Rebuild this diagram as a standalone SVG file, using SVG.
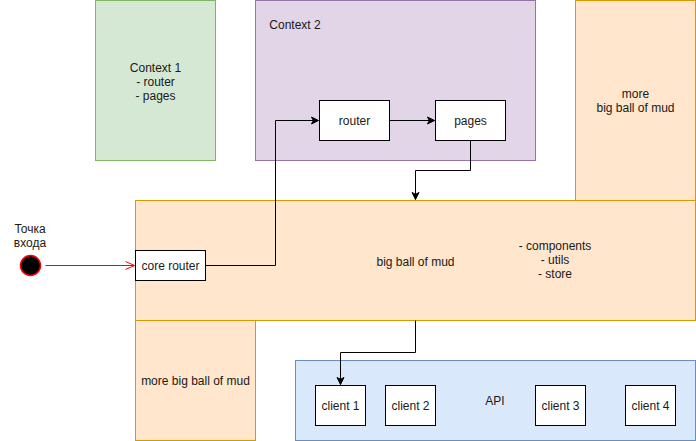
<svg xmlns="http://www.w3.org/2000/svg" width="696" height="441" viewBox="0 0 696 441">
<style>
text{font-family:"Liberation Sans",Arial,sans-serif;font-size:12px;fill:#1a1a1a;text-anchor:middle}
.g{fill:#d5e8d4;stroke:#82b366}
.p{fill:#e1d5e7;stroke:#9673a6}
.o{fill:#ffe6cc;stroke:#d79b00}
.b{fill:#dae8fc;stroke:#6c8ebf}
.w{fill:#ffffff;stroke:#000000}
.c{fill:none;stroke:#000000;stroke-width:1}
</style>
<defs>
<marker id="arr" markerWidth="10" markerHeight="10" refX="8" refY="5" orient="auto" markerUnits="userSpaceOnUse">
<path d="M1,1.5 L8,5 L1,8.5 L2.8,5 Z" fill="#000" stroke="#000" stroke-width="1"/>
</marker>
<marker id="open" markerWidth="12" markerHeight="12" refX="10" refY="6" orient="auto" markerUnits="userSpaceOnUse">
<path d="M1,2 L10,6 L1,10" fill="none" stroke="#ff0000" stroke-width="1"/>
</marker>
</defs>
<g id="context1"><rect class="g" x="95.5" y="0.5" width="120" height="160"/><text x="155.5" y="72">Context 1</text><text x="155.5" y="86">- router</text><text x="155.5" y="100">- pages</text></g>
<g id="context2"><rect class="p" x="255.5" y="0.5" width="280" height="160"/><text x="295" y="29">Context 2</text></g>
<g id="more-right"><rect class="o" x="575.5" y="0.5" width="120" height="200"/><text x="635.5" y="98">more</text><text x="635.5" y="112">big ball of mud</text></g>
<g id="bigball"><rect class="o" x="135.5" y="200.5" width="560" height="120"/><text x="415.5" y="266">big ball of mud</text><text x="555" y="250">- components</text><text x="555" y="264">- utils</text><text x="555" y="278">- store</text></g>
<g id="more-left"><rect class="o" x="135.5" y="320.5" width="120" height="120"/><text x="195.5" y="385">more big ball of mud</text></g>
<g id="api"><rect class="b" x="295.5" y="360.5" width="400" height="80"/><text x="495" y="405">API</text></g>
<g id="client1"><rect class="w" x="315.5" y="385.5" width="50" height="40"/><text x="340.5" y="410">client 1</text></g>
<g id="client2"><rect class="w" x="385.5" y="385.5" width="50" height="40"/><text x="410.5" y="410">client 2</text></g>
<g id="client3"><rect class="w" x="535.5" y="385.5" width="50" height="40"/><text x="560.5" y="410">client 3</text></g>
<g id="client4"><rect class="w" x="625.5" y="385.5" width="50" height="40"/><text x="650.5" y="410">client 4</text></g>
<g id="router"><rect class="w" x="319.5" y="100.5" width="70" height="40"/><text x="354.5" y="125">router</text></g>
<g id="pages"><rect class="w" x="435.5" y="100.5" width="70" height="40"/><text x="470.5" y="125">pages</text></g>
<g id="corerouter"><rect class="w" x="135.5" y="250.5" width="70" height="30"/><text x="170.5" y="270">core router</text></g>
<g id="entry"><circle cx="30.5" cy="265.5" r="10" fill="#000" stroke="#ff0000" stroke-width="1.5"/><text x="30" y="233">Точка</text><text x="30" y="247">входа</text></g>
<g id="connectors">
<path d="M45.5,265.5 L134.5,265.5" fill="none" stroke="#ff0000" marker-end="url(#open)"/>
<path class="c" d="M205.5,265.5 L275.5,265.5 L275.5,120.5 L318.5,120.5" marker-end="url(#arr)"/>
<path class="c" d="M389.5,120.5 L434.5,120.5" marker-end="url(#arr)"/>
<path class="c" d="M470.5,140.5 L470.5,170.5 L415.5,170.5 L415.5,199.5" marker-end="url(#arr)"/>
<path class="c" d="M415.5,320.5 L415.5,352.5 L340.5,352.5 L340.5,384.5" marker-end="url(#arr)"/>
</g>
</svg>
